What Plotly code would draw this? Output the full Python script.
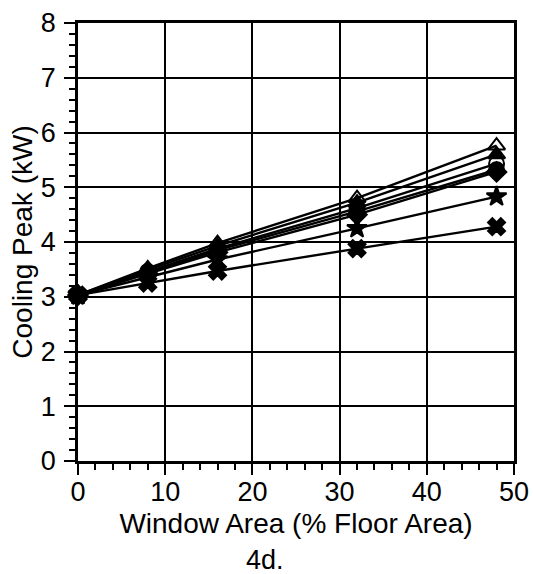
import plotly.graph_objects as go

x_vals = [0, 8, 16, 32, 48]
s_open_tri = [3.03, 3.52, 3.98, 4.80, 5.76]
s_tri = [3.03, 3.49, 3.93, 4.72, 5.60]
s_open_circ = [3.03, 3.46, 3.88, 4.62, 5.43]
s_circ = [3.03, 3.44, 3.85, 4.56, 5.32]
s_diam = [3.03, 3.42, 3.81, 4.50, 5.28]
s_star = [3.03, 3.35, 3.68, 4.25, 4.83]
s_x = [3.03, 3.25, 3.47, 3.88, 4.28]

series = [
    (s_open_tri, "triangle-up-open"),
    (s_tri, "triangle-up"),
    (s_open_circ, "circle-open"),
    (s_circ, "circle"),
    (s_diam, "diamond"),
    (s_star, "star"),
    (s_x, "x"),
]

fig = go.Figure()
for ys, sym in series:
    fig.add_trace(go.Scatter(
        x=x_vals, y=ys, mode="lines+markers",
        line=dict(color="black", width=2.4),
        marker=dict(symbol=sym, size=15, color="black",
                    line=dict(color="black", width=2)),
        cliponaxis=False, showlegend=False))

font_family = "Liberation Sans, Arial, sans-serif"
axis_common = dict(
    showline=True, linecolor="black", linewidth=2.5, mirror=True,
    showgrid=True, gridcolor="black", gridwidth=2,
    zeroline=False, ticks="outside", ticklen=11, tickwidth=2, tickcolor="black",
    tickfont=dict(family=font_family, size=27, color="black"),
    automargin=False, ticklabeloverflow="allow",
)
fig.update_xaxes(range=[0, 50], dtick=10, ticklabelstandoff=-6,
                 minor=dict(dtick=2, ticks="outside", ticklen=6, tickwidth=1.5, tickcolor="black", showgrid=False),
                 title=dict(text="Window Area (% Floor Area)", font=dict(family=font_family, size=28, color="black"), standoff=8),
                 **axis_common)
fig.update_yaxes(range=[0, 8], dtick=1, ticklabelstandoff=3,
                 minor=dict(dtick=0.2, ticks="outside", ticklen=6, tickwidth=1.5, tickcolor="black", showgrid=False),
                 title=dict(text="Cooling Peak (kW)", font=dict(family=font_family, size=28, color="black"), standoff=1),
                 **axis_common)

fig.add_annotation(text="4d.", xref="paper", yref="paper", x=0.43, y=-0.225,
                   showarrow=False, xanchor="center", yanchor="middle",
                   font=dict(family=font_family, size=27, color="black"))

fig.update_layout(
    width=533, height=574,
    margin=dict(l=78, r=19, t=23, b=113),
    plot_bgcolor="white", paper_bgcolor="white",
)
fig.write_html("out.html", config={"displayModeBar": False},
               post_script="document.body.style.margin='0';")
